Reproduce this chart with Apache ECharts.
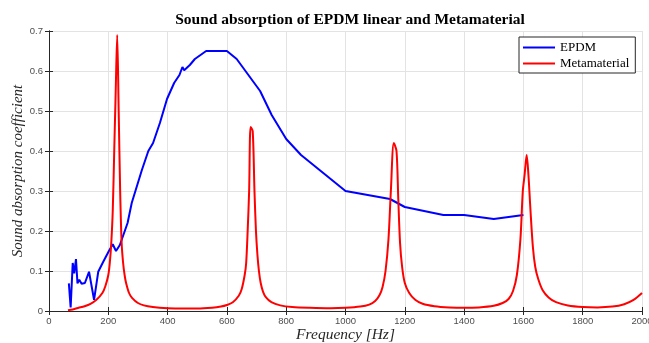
<!DOCTYPE html>
<html>
<head>
<meta charset="utf-8">
<script src="https://cdn.jsdelivr.net/npm/echarts@6/dist/echarts.min.js"></script>
<style>
html,body{margin:0;padding:0;background:#fff;overflow:hidden;}
#chart{width:649px;height:343px;}
</style>
</head>
<body>
<div id="chart"></div>
<script>
// ---- data ----
const titleText = 'Sound absorption of EPDM linear and Metamaterial';
const xTicks = [0, 200, 400, 600, 800, 1000, 1200, 1400, 1600, 1800, 2000];
const yTicks = [0, 0.1, 0.2, 0.3, 0.4, 0.5, 0.6, 0.7];

const epdmFreq = [67, 73, 80, 85, 91, 96, 102, 110, 121, 135, 152, 166, 183, 202, 215, 226, 239, 265, 279, 313, 335, 351, 374, 398, 422, 440, 450, 456, 475, 492, 530, 600, 633, 712, 751, 800, 850, 1000, 1150, 1200, 1330, 1400, 1500, 1600];
const epdmAbs  = [0.069, 0.009, 0.12, 0.094, 0.13, 0.069, 0.078, 0.068, 0.07, 0.098, 0.028, 0.098, 0.123, 0.15, 0.167, 0.15, 0.165, 0.22, 0.27, 0.352, 0.40, 0.42, 0.47, 0.53, 0.57, 0.59, 0.61, 0.602, 0.615, 0.63, 0.65, 0.65, 0.63, 0.55, 0.49, 0.43, 0.39, 0.30, 0.28, 0.26, 0.24, 0.24, 0.23, 0.24];

const metaFreq = [64, 80, 100, 120, 140, 160, 180, 190, 200, 205, 210, 215, 220, 225, 230, 235, 240, 245, 250, 255, 260, 270, 280, 300, 320, 350, 400, 450, 500, 550, 580, 600, 620, 640, 650, 660, 665, 670, 675, 680, 687, 693, 698, 703, 708, 714, 722, 732, 750, 780, 820, 880, 950, 1000, 1050, 1080, 1100, 1115, 1125, 1135, 1145, 1153, 1163, 1172, 1178, 1184, 1191, 1200, 1215, 1235, 1260, 1300, 1350, 1400, 1450, 1500, 1530, 1550, 1565, 1578, 1590, 1598, 1604, 1611, 1617, 1624, 1632, 1640, 1650, 1665, 1685, 1710, 1750, 1800, 1850, 1900, 1940, 1970, 2000];
const metaAbs  = [0.002, 0.004, 0.008, 0.012, 0.018, 0.028, 0.045, 0.062, 0.09, 0.12, 0.17, 0.25, 0.40, 0.55, 0.69, 0.50, 0.30, 0.17, 0.12, 0.09, 0.07, 0.045, 0.033, 0.02, 0.014, 0.01, 0.007, 0.006, 0.006, 0.008, 0.011, 0.015, 0.022, 0.038, 0.055, 0.09, 0.12, 0.20, 0.30, 0.46, 0.45, 0.30, 0.20, 0.14, 0.10, 0.07, 0.048, 0.034, 0.022, 0.014, 0.010, 0.008, 0.007, 0.008, 0.011, 0.016, 0.025, 0.04, 0.06, 0.10, 0.18, 0.30, 0.42, 0.40, 0.28, 0.17, 0.11, 0.07, 0.045, 0.028, 0.018, 0.012, 0.009, 0.008, 0.009, 0.013, 0.02, 0.03, 0.05, 0.09, 0.18, 0.30, 0.34, 0.39, 0.34, 0.25, 0.16, 0.11, 0.08, 0.052, 0.034, 0.022, 0.014, 0.010, 0.009, 0.011, 0.017, 0.027, 0.045];

const seriesNames = ['EPDM', 'Metamaterial'];

// ---- chart ----
const chart = echarts.init(document.getElementById('chart'), null, {renderer: 'canvas'});
const axisColor = '#262626';
const gridColor = '#e3e3e3';
const tickLabel = {color: '#4d4d4d', fontSize: 9.5, fontFamily: 'Liberation Sans, Arial, sans-serif'};

function pairs(xs, ys) { return xs.map((x, i) => [x, ys[i]]); }

const xCommon = {
  type: 'value', min: xTicks[0], max: xTicks[xTicks.length - 1], interval: xTicks[1] - xTicks[0]
};
const yCommon = {
  type: 'value', min: yTicks[0], max: yTicks[yTicks.length - 1], interval: 0.1
};

chart.setOption({
  animation: false,
  backgroundColor: '#ffffff',
  title: {
    text: titleText,
    left: 345, top: 7, textAlign: 'center',
    textStyle: {fontFamily: 'Liberation Serif, Times New Roman, serif', fontWeight: 'bold', fontSize: 15.5, color: '#000'}
  },
  legend: {
    orient: 'vertical', left: 519, top: 37,
    padding: [4, 6, 3, 4], itemGap: 3,
    itemWidth: 32, itemHeight: 2, icon: 'rect',
    borderColor: axisColor, borderWidth: 1, backgroundColor: '#fff',
    textStyle: {fontFamily: 'Liberation Serif, Times New Roman, serif', fontSize: 13, color: '#000'},
    data: seriesNames
  },
  grid: {left: 49, right: 7, top: 31, bottom: 32, containLabel: false, outerBoundsMode: 'none'},
  xAxis: [
    Object.assign({}, xCommon, {
      position: 'bottom',
      name: 'Frequency [Hz]', nameLocation: 'middle', nameGap: 16, nameMoveOverlap: false,
      nameTextStyle: {fontFamily: 'Liberation Serif, Times New Roman, serif', fontStyle: 'italic', fontSize: 15.5, color: '#262626', verticalAlign: 'top'},
      axisLine: {show: true, lineStyle: {color: axisColor, width: 1}},
      axisTick: {show: true, inside: true, length: 4, lineStyle: {color: axisColor}},
      axisLabel: Object.assign({margin: 5, formatter: v => String(v)}, tickLabel),
      splitLine: {show: true, lineStyle: {color: gridColor, width: 1}}
    }),
    Object.assign({}, xCommon, {
      position: 'top',
      axisLine: {show: true, lineStyle: {color: axisColor, width: 1}},
      axisTick: {show: true, inside: true, length: 4, lineStyle: {color: axisColor}},
      axisLabel: {show: false},
      splitLine: {show: false}
    })
  ],
  yAxis: [
    Object.assign({}, yCommon, {
      position: 'left',
      name: 'Sound absorption coefficient', nameLocation: 'middle', nameGap: 23, nameMoveOverlap: false,
      nameTextStyle: {fontFamily: 'Liberation Serif, Times New Roman, serif', fontStyle: 'italic', fontSize: 15, color: '#262626'},
      axisLine: {show: true, lineStyle: {color: axisColor, width: 1}},
      axisTick: {show: true, inside: true, length: 4, lineStyle: {color: axisColor}},
      axisLabel: Object.assign({margin: 6, formatter: v => String(Math.round(v * 10) / 10)}, tickLabel),
      splitLine: {show: true, lineStyle: {color: gridColor, width: 1}}
    }),
    Object.assign({}, yCommon, {
      position: 'right',
      axisLine: {show: true, lineStyle: {color: axisColor, width: 1}},
      axisTick: {show: true, inside: true, length: 4, lineStyle: {color: axisColor}},
      axisLabel: {show: false},
      splitLine: {show: false}
    })
  ],
  series: [
    {
      name: seriesNames[0], type: 'line', xAxisIndex: 0, yAxisIndex: 0,
      data: pairs(epdmFreq, epdmAbs), showSymbol: false, symbol: 'none',
      lineStyle: {color: '#0000ff', width: 2}, itemStyle: {color: '#0000ff'}, z: 3
    },
    {
      name: seriesNames[1], type: 'line', xAxisIndex: 0, yAxisIndex: 0,
      data: pairs(metaFreq, metaAbs), showSymbol: false, symbol: 'none', smooth: 0.3,
      lineStyle: {color: '#ff0000', width: 2}, itemStyle: {color: '#ff0000'}, z: 4
    }
  ]
});
</script>
</body>
</html>
